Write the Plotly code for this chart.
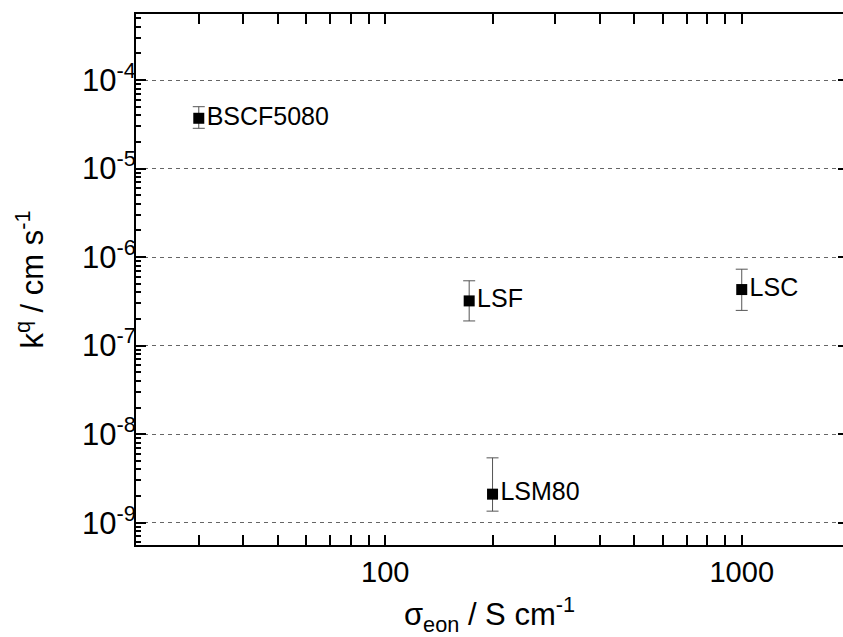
import numpy as np
import plotly.graph_objects as go

# Electronic conductivity (S/cm) and surface exchange coefficient k^q (cm/s)
materials = ["BSCF5080", "LSF", "LSC", "LSM80"]
sigma_eon = [30, 172, 1000, 200]
k_q = [3.7e-5, 3.2e-7, 4.3e-7, 2.1e-9]
k_q_upper = [5.0e-5, 5.4e-7, 7.3e-7, 5.4e-9]
k_q_lower = [2.85e-5, 1.9e-7, 2.5e-7, 1.35e-9]

y_tickvals = [1e-9, 1e-8, 1e-7, 1e-6, 1e-5, 1e-4]
y_ticktext = ["10<sup>-9</sup>", "10<sup>-8</sup>", "10<sup>-7</sup>",
              "10<sup>-6</sup>", "10<sup>-5</sup>", "10<sup>-4</sup>"]
x_tickvals = [100, 1000]
x_ticktext = ["100", "1000"]

k = np.array(k_q)
err_plus = np.array(k_q_upper) - k
err_minus = k - np.array(k_q_lower)

FONT = "Arial, 'Liberation Sans', sans-serif"
Y_RANGE = [-9.252, -3.254]

fig = go.Figure()
fig.add_trace(go.Scatter(
    x=sigma_eon, y=k_q,
    mode="markers+text",
    text=materials,
    textposition="middle right",
    textfont=dict(family=FONT, size=25, color="black"),
    marker=dict(symbol="square", size=11, color="black"),
    error_y=dict(type="data", symmetric=False, array=err_plus, arrayminus=err_minus,
                 color="#555555", thickness=1, width=6),
    showlegend=False,
    cliponaxis=False,
))

axis_common = dict(
    showline=True, linecolor="black", linewidth=2,
    ticks="inside", ticklen=10, tickwidth=1.5, tickcolor="black",
    zeroline=False,
)

fig.update_xaxes(
    type="log", range=[np.log10(20), 3.284],
    tickvals=x_tickvals, ticktext=x_ticktext,
    tickfont=dict(family=FONT, size=29, color="black"),
    showgrid=False, mirror="allticks",
    minor=dict(ticks="inside", ticklen=5, tickwidth=1.5, tickcolor="black",
               showgrid=False, dtick="D1"),
    title=dict(text="σ<sub>eon</sub> / S cm<sup>-1</sup>",
               font=dict(family=FONT, size=31, color="black"), standoff=20),
    **axis_common,
)
fig.update_yaxes(
    type="log", range=Y_RANGE,
    tickvals=y_tickvals, ticktext=y_ticktext,
    tickfont=dict(family=FONT, size=31, color="black"),
    ticklabelstandoff=-8,
    showgrid=True, gridcolor="#666666", gridwidth=1, griddash="4px,4px",
    minor=dict(ticks="inside", ticklen=5, tickwidth=1.5, tickcolor="black",
               showgrid=False, dtick="D1"),
    title=dict(text="k<sup>q</sup> / cm s<sup>-1</sup>",
               font=dict(family=FONT, size=31, color="black"), standoff=29),
    **axis_common,
)

# Right-hand frame: only the inner tips of the decade ticks fall inside the canvas
fig.update_layout(
    yaxis2=dict(
        type="log", range=Y_RANGE, overlaying="y", side="right",
        tickvals=y_tickvals, ticks="inside", ticklen=5, tickwidth=2,
        tickcolor="black", showticklabels=False, showline=False,
        showgrid=False, zeroline=False,
    ),
)
fig.add_trace(go.Scatter(x=[], y=[], yaxis="y2", showlegend=False))

fig.update_layout(
    width=843, height=637,
    margin=dict(l=136, r=0, t=14, b=92),
    paper_bgcolor="white", plot_bgcolor="white",
    font=dict(family=FONT, color="black"),
)

fig.write_html("out.html")
